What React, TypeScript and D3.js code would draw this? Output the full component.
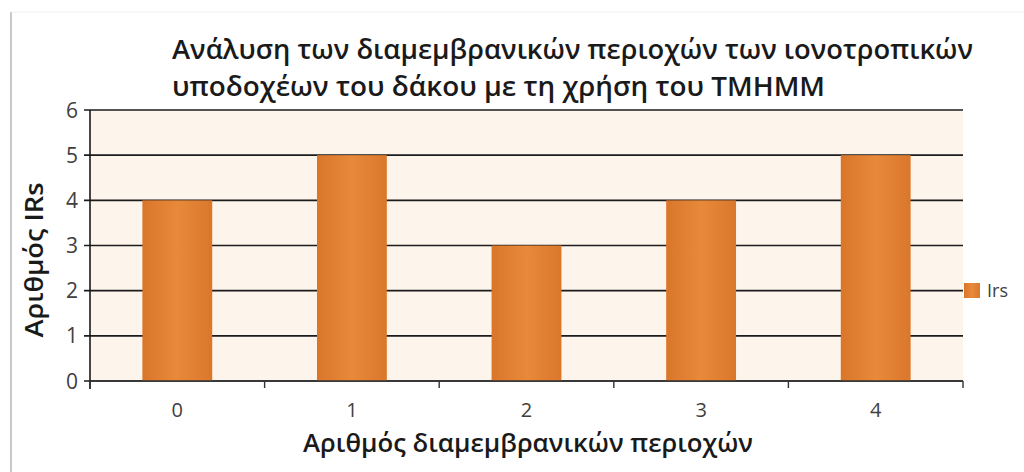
import React from "react";
import * as d3 from "d3";

const categories = ["0", "1", "2", "3", "4"];
const irsCounts = [4, 5, 3, 4, 5];
const yTicks = [0, 1, 2, 3, 4, 5, 6];
const seriesName = "Irs";
const titleLines = [
  "Ανάλυση των διαμεμβρανικών περιοχών των ιονοτροπικών",
  "υποδοχέων του δάκου με τη χρήση του TMHMM",
];
const titleWidths = [801, 653];
const xTitle = "Αριθμός διαμεμβρανικών περιοχών";
const yTitle = "Αριθμός IRs";

const W = 1024;
const H = 472;
const plot = { left: 90, right: 963, top: 110, bottom: 381 };
const font = "'Open Sans', 'Noto Sans', sans-serif";

export default function App() {
  const x = d3
    .scaleBand<string>()
    .domain(categories)
    .range([plot.left, plot.right])
    .paddingInner(0.6)
    .paddingOuter(0.3);
  const band = d3.scaleBand<string>().domain(categories).range([plot.left, plot.right]);
  const y = d3.scaleLinear().domain([0, 6]).range([plot.bottom, plot.top]);

  const catTicks = [...categories.map((c) => band(c)!), plot.right];

  return (
    <svg
      width={W}
      height={H}
      style={{ position: "absolute", left: 0, top: 0, background: "#fff" }}
    >
      <defs>
        <linearGradient id="barFill" x1="0" x2="1" y1="0" y2="0">
          <stop offset="0" stopColor="#D9762A" />
          <stop offset="0.5" stopColor="#E8893A" />
          <stop offset="1" stopColor="#DA772B" />
        </linearGradient>
        <filter id="soft" x="-5%" y="-5%" width="110%" height="110%">
          <feGaussianBlur stdDeviation="0.6" />
        </filter>
      </defs>

      {/* frame edge */}
      <line x1={11} x2={11} y1={12} y2={H} stroke="#c8c8c8" strokeWidth={2} />
      <line x1={11} x2={W} y1={12} y2={12} stroke="#f0f0f0" strokeWidth={1} />

      {/* plot background */}
      <rect
        x={plot.left}
        y={plot.top}
        width={plot.right - plot.left}
        height={plot.bottom - plot.top}
        fill="#FDF4EC"
      />

      <g filter="url(#soft)">
        {/* gridlines */}
        {yTicks.map((t) => (
          <line
            key={"g" + t}
            x1={plot.left - 6}
            x2={plot.right}
            y1={y(t)}
            y2={y(t)}
            stroke="#1a1a1a"
            strokeWidth={1.6}
          />
        ))}

        {/* bars */}
        {categories.map((c, i) => (
          <rect
            key={c}
            x={x(c)}
            y={y(irsCounts[i])}
            width={x.bandwidth()}
            height={y(0) - y(irsCounts[i])}
            fill="url(#barFill)"
          />
        ))}

        {/* axes */}
        <line x1={plot.left} x2={plot.left} y1={plot.top} y2={plot.bottom + 8} stroke="#1a1a1a" strokeWidth={1.6} />
        <line x1={plot.left} x2={plot.right} y1={plot.bottom} y2={plot.bottom} stroke="#333" strokeWidth={1.6} />
        {catTicks.map((tx, i) => (
          <line key={"t" + i} x1={tx} x2={tx} y1={plot.bottom} y2={plot.bottom + 7} stroke="#333" strokeWidth={1.4} />
        ))}
      </g>

      {/* y tick labels */}
      {yTicks.map((t) => (
        <text
          key={"yl" + t}
          x={plot.left - 12}
          y={y(t)}
          dy="0.36em"
          textAnchor="end"
          fontFamily={font}
          fontSize={21}
          fill="#404040"
        >
          {t}
        </text>
      ))}

      {/* x tick labels */}
      {categories.map((c) => (
        <text
          key={"xl" + c}
          x={band(c)! + band.bandwidth() / 2}
          y={417}
          textAnchor="middle"
          fontFamily={font}
          fontSize={20}
          fill="#404040"
        >
          {c}
        </text>
      ))}

      {/* title */}
      {titleLines.map((l, i) => (
        <text
          key={"ti" + i}
          x={172}
          y={59 + i * 37}
          fontFamily={font}
          fontSize={27}
          fontWeight={600}
          fill="#1a1a1a"
          textLength={titleWidths[i]}
          lengthAdjust="spacingAndGlyphs"
        >
          {l}
        </text>
      ))}

      {/* axis titles */}
      <text
        x={528}
        y={452}
        textAnchor="middle"
        fontFamily={font}
        fontSize={25}
        fontWeight={600}
        fill="#1a1a1a"
        textLength={450}
        lengthAdjust="spacingAndGlyphs"
      >
        {xTitle}
      </text>
      <text
        transform={`translate(43, 260) rotate(-90)`}
        textAnchor="middle"
        fontFamily={font}
        fontSize={26}
        fontWeight={600}
        fill="#1a1a1a"
        textLength={155}
        lengthAdjust="spacingAndGlyphs"
      >
        {yTitle}
      </text>

      {/* legend */}
      <rect x={964} y={283} width={16} height={15} fill="url(#barFill)" />
      <text x={987} y={291} dy="0.36em" fontFamily={font} fontSize={18} fill="#404040">
        {seriesName}
      </text>
    </svg>
  );
}
